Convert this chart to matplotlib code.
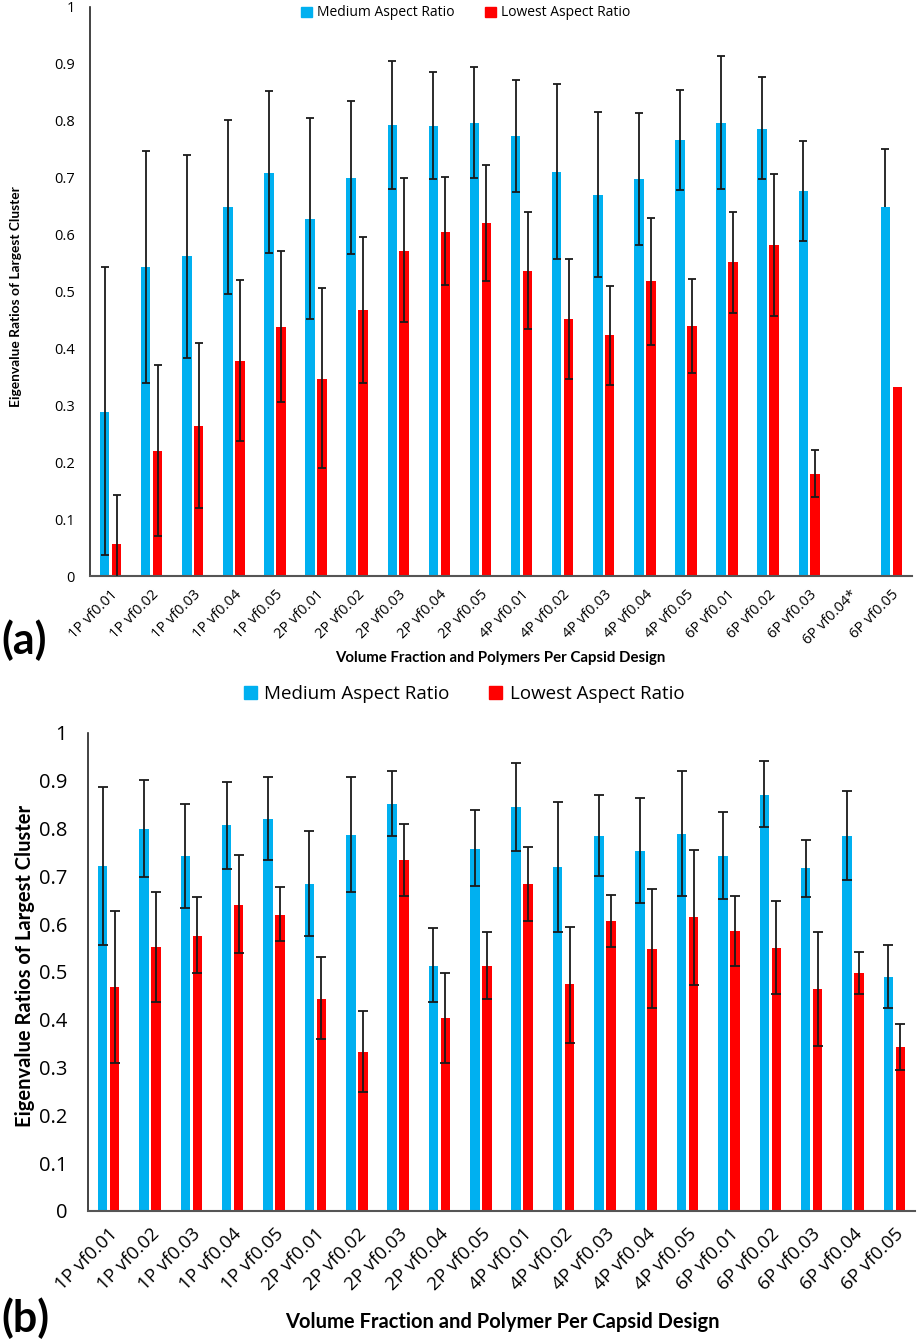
import numpy as np
import matplotlib
matplotlib.use("Agg")
import matplotlib.pyplot as plt
from matplotlib.patches import Patch

nan = np.nan

# panel (a)
cats_a = ["1P vf0.01", "1P vf0.02", "1P vf0.03", "1P vf0.04", "1P vf0.05",
          "2P vf0.01", "2P vf0.02", "2P vf0.03", "2P vf0.04", "2P vf0.05",
          "4P vf0.01", "4P vf0.02", "4P vf0.03", "4P vf0.04", "4P vf0.05",
          "6P vf0.01", "6P vf0.02", "6P vf0.03", "6P vf0.04*", "6P vf0.05"]
blue_a = [0.289, 0.543, 0.562, 0.648, 0.709, 0.627, 0.700, 0.792, 0.791, 0.797,
          0.773, 0.710, 0.669, 0.697, 0.767, 0.797, 0.786, 0.677, nan, 0.648]
blue_a_hi = [0.543, 0.747, 0.740, 0.802, 0.852, 0.805, 0.835, 0.905, 0.885, 0.894,
             0.872, 0.865, 0.816, 0.813, 0.854, 0.914, 0.877, 0.765, nan, 0.751]
blue_a_lo = [0.037, 0.340, 0.384, 0.495, 0.567, 0.451, 0.566, 0.680, 0.698, 0.699,
             0.675, 0.557, 0.525, 0.581, 0.679, 0.681, 0.698, 0.588, nan, 0.648]
red_a = [0.057, 0.220, 0.264, 0.378, 0.438, 0.347, 0.467, 0.572, 0.605, 0.621,
         0.536, 0.451, 0.423, 0.518, 0.440, 0.551, 0.582, 0.179, nan, 0.332]
red_a_hi = [0.143, 0.370, 0.409, 0.520, 0.572, 0.506, 0.596, 0.699, 0.701, 0.722,
            0.640, 0.557, 0.510, 0.629, 0.522, 0.640, 0.706, 0.222, nan, 0.332]
red_a_lo = [-0.029, 0.071, 0.119, 0.237, 0.306, 0.189, 0.340, 0.446, 0.511, 0.519,
            0.434, 0.346, 0.336, 0.406, 0.357, 0.463, 0.457, 0.138, nan, 0.332]

# panel (b)
cats_b = ["1P vf0.01", "1P vf0.02", "1P vf0.03", "1P vf0.04", "1P vf0.05",
          "2P vf0.01", "2P vf0.02", "2P vf0.03", "2P vf0.04", "2P vf0.05",
          "4P vf0.01", "4P vf0.02", "4P vf0.03", "4P vf0.04", "4P vf0.05",
          "6P vf0.01", "6P vf0.02", "6P vf0.03", "6P vf0.04", "6P vf0.05"]
blue_b = [0.721, 0.800, 0.742, 0.807, 0.820, 0.685, 0.786, 0.851, 0.513, 0.758,
          0.845, 0.720, 0.785, 0.753, 0.788, 0.743, 0.871, 0.717, 0.785, 0.489]
blue_b_hi = [0.888, 0.902, 0.852, 0.898, 0.908, 0.795, 0.907, 0.920, 0.592, 0.839,
             0.938, 0.856, 0.870, 0.863, 0.920, 0.835, 0.941, 0.777, 0.878, 0.557]
blue_b_lo = [0.557, 0.699, 0.633, 0.716, 0.734, 0.575, 0.668, 0.785, 0.437, 0.679,
             0.753, 0.584, 0.701, 0.644, 0.658, 0.652, 0.803, 0.657, 0.692, 0.424]
red_b = [0.468, 0.552, 0.576, 0.641, 0.620, 0.444, 0.332, 0.735, 0.403, 0.513,
         0.684, 0.474, 0.606, 0.548, 0.615, 0.585, 0.551, 0.464, 0.498, 0.343]
red_b_hi = [0.628, 0.667, 0.656, 0.744, 0.678, 0.532, 0.418, 0.810, 0.498, 0.584,
            0.762, 0.595, 0.662, 0.673, 0.756, 0.659, 0.648, 0.583, 0.542, 0.392]
red_b_lo = [0.309, 0.437, 0.498, 0.540, 0.565, 0.359, 0.248, 0.659, 0.309, 0.443,
            0.606, 0.351, 0.553, 0.424, 0.473, 0.512, 0.455, 0.345, 0.453, 0.294]

yticks = [0, 0.1, 0.2, 0.3, 0.4, 0.5, 0.6, 0.7, 0.8, 0.9, 1]
ytick_labels = ["0", "0.1", "0.2", "0.3", "0.4", "0.5", "0.6", "0.7", "0.8", "0.9", "1"]

BLUE = "#00B0F0"
RED = "#FF0000"
TXT = "Open Sans"
BOLD = "Lato"


def draw_err(ax, x, mean, lo, hi, capw):
    mean, lo, hi = np.array(mean), np.array(lo), np.array(hi)
    ok = hi > lo
    ax.vlines(x[ok], lo[ok], hi[ok], color="#1a1a1a", lw=1.3, zorder=3)
    ax.plot(x[ok], hi[ok], ls="none", marker="_", ms=capw, mew=1.3, color="#1a1a1a", zorder=3)
    low = ok & (lo < mean - 1e-6)
    ax.plot(x[low], lo[low], ls="none", marker="_", ms=capw, mew=1.3, color="#1a1a1a", zorder=3)


def panel(ax, cats, b, bhi, blo, r, rhi, rlo, tick_fs, xt_fs, ypad, xpad, capw):
    x = np.arange(len(cats))
    w = 0.23
    off = 0.145
    ax.bar(x - off, b, w, color=BLUE, zorder=2)
    ax.bar(x + off, r, w, color=RED, zorder=2)
    draw_err(ax, x - off, b, blo, bhi, capw)
    draw_err(ax, x + off, r, rlo, rhi, capw)
    ax.set_xlim(-0.5, len(cats) - 0.5)
    ax.set_ylim(0, 1)
    ax.set_yticks(yticks)
    ax.set_yticklabels(ytick_labels, fontsize=tick_fs, family=TXT)
    ax.set_xticks(x)
    ax.set_xticklabels(cats, rotation=45, ha="right", rotation_mode="anchor",
                       fontsize=xt_fs, family=TXT)
    ax.tick_params(axis="y", length=0, pad=ypad)
    ax.tick_params(axis="x", length=0, pad=xpad)
    for s in ["top", "right"]:
        ax.spines[s].set_visible(False)
    ax.spines["left"].set_color("#222222")
    ax.spines["bottom"].set_color("#555555")
    ax.spines["left"].set_linewidth(1.2)
    ax.spines["bottom"].set_linewidth(1.5)


W, H = 917, 1344
fig = plt.figure(figsize=(W / 100, H / 100), dpi=100)

axa = fig.add_axes([90 / W, 1 - 576 / H, 822 / W, 569 / H])
panel(axa, cats_a, blue_a, blue_a_hi, blue_a_lo, red_a, red_a_hi, red_a_lo,
      10.5, 10.5, 11, 8, 6)

axb = fig.add_axes([88 / W, 1 - 1211 / H, 827 / W, 478 / H])
panel(axb, cats_b, blue_b, blue_b_hi, blue_b_lo, red_b, red_b_hi, red_b_lo,
      14.5, 13.5, 15, 10, 7)

handles = [Patch(color=BLUE, label="Medium Aspect Ratio"),
           Patch(color=RED, label="Lowest Aspect Ratio")]
fig.legend(handles=handles, loc="center", bbox_to_anchor=(466 / W, 1 - 13 / H), ncol=2,
           frameon=False, prop={"family": TXT, "size": 10}, handlelength=0.75,
           handleheight=0.75, handletextpad=0.4, columnspacing=2.2)
fig.legend(handles=handles, loc="center", bbox_to_anchor=(464 / W, 1 - 694 / H), ncol=2,
           frameon=False, prop={"family": TXT, "size": 13.5}, handlelength=0.7,
           handleheight=0.7, handletextpad=0.4, columnspacing=2.1)

fig.text(16 / W, 1 - 297 / H, "Eigenvalue Ratios of Largest Cluster", rotation=90,
         ha="center", va="center", fontsize=9.9, fontweight="bold", family=BOLD)
fig.text(25 / W, 1 - 966 / H, "Eigenvalue Ratios of Largest Cluster", rotation=90,
         ha="center", va="center", fontsize=14.5, fontweight="bold", family=BOLD)
fig.text(500 / W, 1 - 658 / H, "Volume Fraction and Polymers Per Capsid Design",
         ha="center", va="center", fontsize=10.8, fontweight="bold", family=BOLD)
fig.text(502 / W, 1 - 1322 / H, "Volume Fraction and Polymer Per Capsid Design",
         ha="center", va="center", fontsize=14.5, fontweight="bold", family=BOLD)
fig.text(24 / W, 1 - 640 / H, "(a)", ha="center", va="center", fontsize=31,
         fontweight="bold", family=BOLD)
fig.text(25 / W, 1 - 1318 / H, "(b)", ha="center", va="center", fontsize=31,
         fontweight="bold", family=BOLD)

fig.savefig("out.png", dpi=100)
